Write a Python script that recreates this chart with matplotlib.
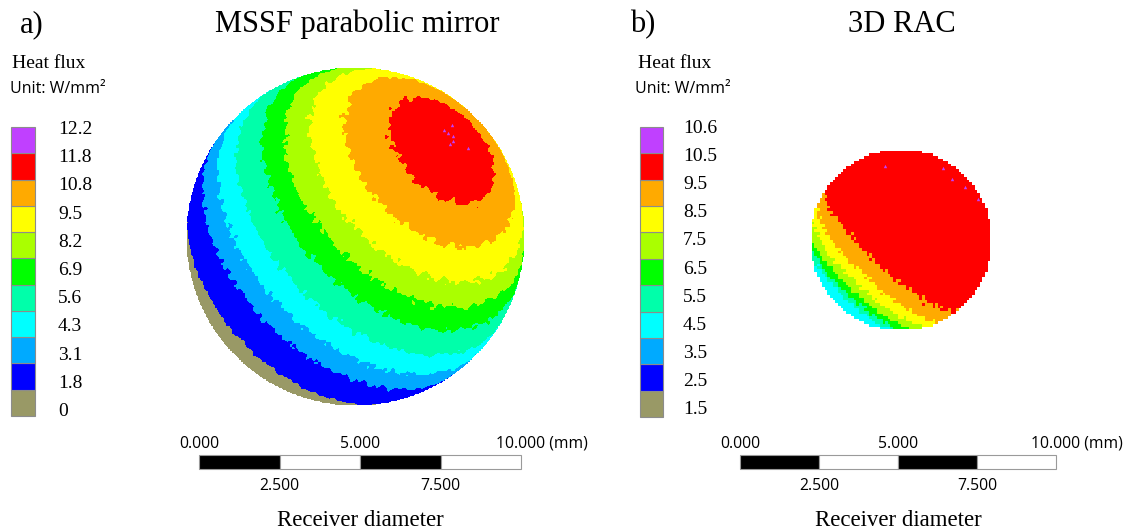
import numpy as np
import matplotlib

matplotlib.use('Agg')
import matplotlib.pyplot as plt
from matplotlib.colors import ListedColormap

FIG_W, FIG_H = 1132, 532
SERIF = 'Liberation Serif'
SANS = 'Open Sans'

# legend levels (W/mm^2), bottom to top
flux_levels_a = [0, 1.8, 3.1, 4.3, 5.6, 6.9, 8.2, 9.5, 10.8, 11.8, 12.2]
flux_levels_b = [1.5, 2.5, 3.5, 4.5, 5.5, 6.5, 7.5, 8.5, 9.5, 10.5, 10.6]
band_colors = ['#999966', '#0000FF', '#00AAFF', '#00FFFF', '#00FFAA', '#00FF00',
               '#AAFF00', '#FFFF00', '#FFAA00', '#FF0000', '#C040FF']

# angular distance from the hot spot (deg) where each band ends, hottest band first
band_edges_a = [22, 37, 49, 58, 67, 78, 88, 98, 117]
band_edges_b = [97.5, 110.1, 118.9, 126.4, 133.2, 138.9, 172, 176, 179]

# hot spot direction on the receiver: (azimuth, tilt from view axis) in deg
hot_spot_a = (45, 51)
hot_spot_b = (47.5, 76)

# receiver centre x, centre y and radius in mm (scale bar starts at 0, 0)
receiver_a = (4.85, 7.0, 5.25)
receiver_b = (5.08, 7.0, 2.9)

# isolated cells above the top level (mm)
peak_x_a = [7.86, 7.61, 7.73, 7.89, 7.89, 7.80, 8.35]
peak_y_a = [10.47, 10.31, 10.22, 10.12, 9.97, 9.88, 9.75]
peak_x_b = [4.59, 6.42, 6.71, 7.12, 7.53]
peak_y_b = [9.37, 9.30, 8.96, 8.70, 8.32]

scale_top = [0, 5, 10]
scale_bottom = [2.5, 7.5]
scale_segments = [0, 2.5, 5, 7.5]


def px_box(x0, y0, x1, y1):
    return [x0 / FIG_W, 1 - y1 / FIG_H, (x1 - x0) / FIG_W, (y1 - y0) / FIG_H]


def band_map(receiver, hot, edges, n, ripple):
    u = np.linspace(-1, 1, n)
    U, V = np.meshgrid(u, u)
    rr = U ** 2 + V ** 2
    Z = np.sqrt(np.clip(1 - rr, 0, None))
    az, tilt = np.radians(hot)
    d = (np.sin(tilt) * np.cos(az), np.sin(tilt) * np.sin(az), np.cos(tilt))
    ang = np.degrees(np.arccos(np.clip(U * d[0] + V * d[1] + Z * d[2], -1, 1)))
    # ragged edges of the mesh-based contour bands
    tex = (np.sin(61 * U + 23 * V) + np.sin(-37 * U + 71 * V + 1.3)
           + np.sin(97 * U - 53 * V + 0.7) + np.sin(29 * U + 113 * V + 2.1)
           + 0.6 * np.sin(151 * U + 89 * V + 0.4) + 0.6 * np.sin(-131 * U + 163 * V + 2.6)) / 3
    ang = ang + ripple * tex
    band = 9 - np.digitize(ang, edges)
    return np.ma.masked_where(rr > 1, band)


def draw_panel(fig, box, origin, px_mm, receiver, hot, edges, n, ripple, px, py):
    x0, y0, x1, y1 = box
    ax = fig.add_axes(px_box(*box))
    ox, oy = origin
    cmap = ListedColormap(band_colors)
    cmap.set_bad((1, 1, 1, 0))
    cx, cy, r = receiver
    ax.imshow(band_map(receiver, hot, edges, n, ripple), cmap=cmap, vmin=-0.5, vmax=10.5,
              extent=[cx - r, cx + r, cy - r, cy + r], origin='lower',
              interpolation='nearest', aspect='auto')
    ax.scatter(px, py, marker='^', s=6, color=band_colors[-1], linewidths=0)

    # scale bar
    bar_h = 14 / px_mm
    ax.bar(scale_segments, bar_h, width=2.5, bottom=-bar_h / 2, align='edge',
           color=['black', 'white', 'black', 'white'], edgecolor='#9a9a9a', linewidth=0.8)
    for t in scale_top:
        label = f"{t:.3f}"
        if t == scale_top[-1]:
            ax.text(t - 25 / px_mm, 14 / px_mm, label + " (mm)", ha='left', va='baseline',
                    family=SANS, fontsize=11.3)
        else:
            ax.text(t, 14 / px_mm, label, ha='center', va='baseline', family=SANS, fontsize=11.3)
    for t in scale_bottom:
        ax.text(t, -28 / px_mm, f"{t:.3f}", ha='center', va='baseline', family=SANS, fontsize=11.3)
    ax.text(5, -64 / px_mm, "Receiver diameter", ha='center', va='baseline',
            family=SERIF, fontsize=16.5)

    ax.set_xlim((x0 - ox) / px_mm, (x1 - ox) / px_mm)
    ax.set_ylim((oy - y1) / px_mm, (oy - y0) / px_mm)
    ax.axis('off')
    return ax


def draw_legend(fig, box, levels, text_x, first_base, step):
    ax = fig.add_axes(px_box(*box))
    ax.bar([0] * len(levels), [1] * len(levels), bottom=np.arange(len(levels)), width=1,
           align='edge', color=band_colors, edgecolor='#8c8c8c', linewidth=0.8, clip_on=False)
    ax.set_xlim(0, 1)
    ax.set_ylim(0, len(levels))
    ax.axis('off')
    for i, v in enumerate(levels[::-1]):
        y = first_base + step * i
        fig.text(text_x / FIG_W, 1 - y / FIG_H, f"{v:g}", ha='left', va='baseline',
                 family=SERIF, fontsize=14)


fig = plt.figure(figsize=(FIG_W / 100, FIG_H / 100), dpi=100)


def fig_text(x, y, s, **kw):
    fig.text(x / FIG_W, 1 - y / FIG_H, s, ha='left', va='baseline', **kw)


# panel a
fig_text(20, 32, "a)", family=SERIF, fontsize=22)
fig_text(215, 32, "MSSF parabolic mirror", family=SERIF, fontsize=22)
fig_text(12, 68, "Heat flux", family=SERIF, fontsize=14)
fig_text(10, 93, "Unit: W/mm²", family=SANS, fontsize=11.5)
draw_legend(fig, (11, 127, 35, 416), flux_levels_a, 58, 134, 28.2)
draw_panel(fig, (160, 40, 632, 532), (199, 462), 32.2, receiver_a, hot_spot_a,
           band_edges_a, 520, 1.5, peak_x_a, peak_y_a)

# panel b
fig_text(630, 32, "b)", family=SERIF, fontsize=22)
fig_text(848, 32, "3D RAC", family=SERIF, fontsize=22)
fig_text(638, 68, "Heat flux", family=SERIF, fontsize=14)
fig_text(635, 93, "Unit: W/mm²", family=SANS, fontsize=11.5)
draw_legend(fig, (640, 127, 663, 417), flux_levels_b, 683, 133, 28.1)
draw_panel(fig, (700, 40, 1132, 532), (740, 462), 31.6, receiver_b, hot_spot_b,
           band_edges_b, 70, 2.5, peak_x_b, peak_y_b)

fig.savefig('out.png', dpi=100)
plt.close(fig)
